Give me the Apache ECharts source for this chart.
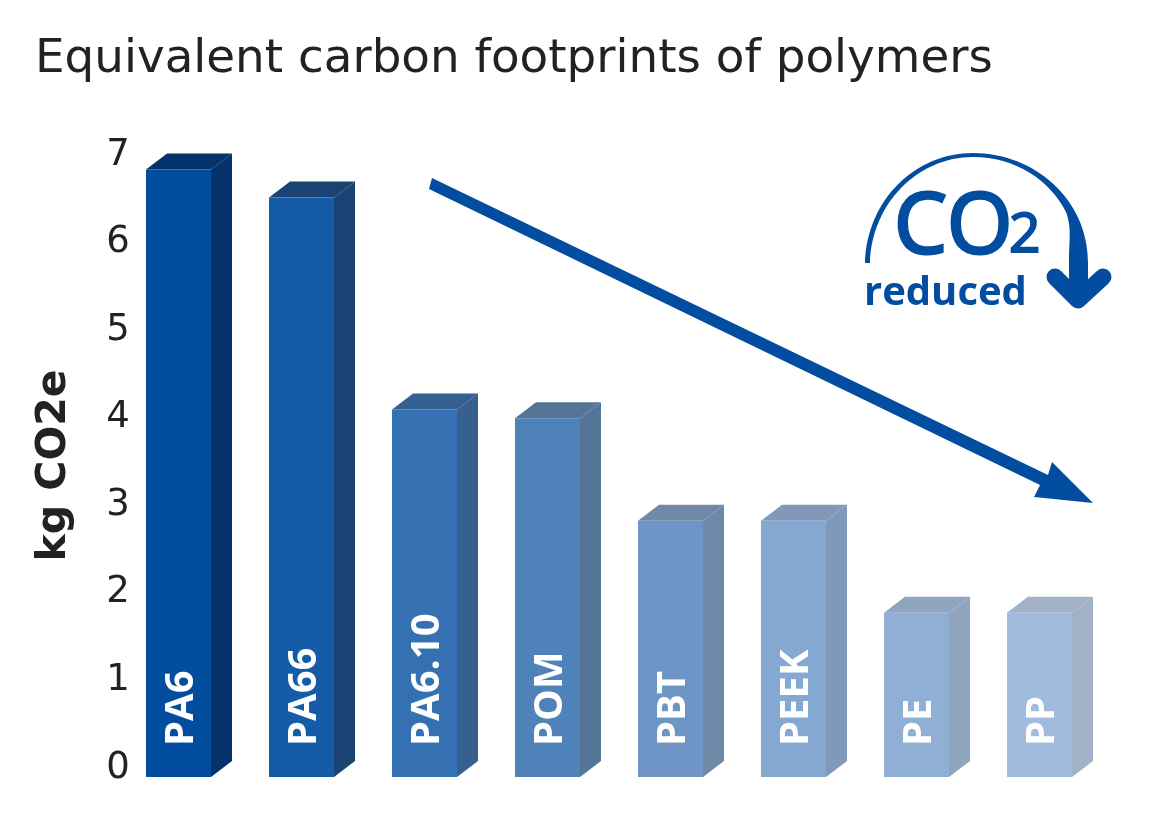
<!DOCTYPE html>
<html>
<head>
<meta charset="utf-8">
<style>html,body{margin:0;padding:0;background:#fff}#c{width:1170px;height:819px}</style>
<script src="https://cdn.jsdelivr.net/npm/echarts@6/dist/echarts.min.js"></script>
</head>
<body>
<div id="c"></div>
<script>
const categories = ['PA6','PA66','PA6.10','POM','PBT','PEEK','PE','PP'];
const values = [6.8,6.48,4.06,3.96,2.79,2.79,1.74,1.74];
const yTicks = [0,1,2,3,4,5,6,7];
const frontColors = ['#034d9f','#155ca8','#3570b2','#5082ba','#6f95c7','#84a8d2','#90afd5','#a0bbdc'];
const sideColors  = ['#04326a','#1a4272','#35608f','#547498','#6f8aa9','#8099b8','#8fa5bf','#a1b2c8'];

const FONT = '"Open Sans","Noto Sans",sans-serif';
const BAR_W = 65, DX = 21, DY = 16, BASE_DROP = 12;
const LOGO_PATH = 'M865,263 C867,200 915,153 973,153 C1035,153 1088,200 1088,262 L1088,295 L1069,295 L1069,262 C1069,240 1072,228 1066,212 C1050,180 1015,157 973,157 C918,157 872,203 870,263 Z';

function renderBar(params, api) {
  const i = api.value(0);
  const top = api.coord([i, api.value(1)]);
  const zero = api.coord([i, 0]);
  const l = top[0] - BAR_W / 2, r = l + BAR_W;
  const t = top[1], b = zero[1] + BASE_DROP;
  return {
    type: 'group',
    children: [
      { type: 'polygon', shape: { points: [[l,t],[l+DX,t-DY],[r+DX,t-DY],[r,t]] }, style: { fill: sideColors[i] } },
      { type: 'polygon', shape: { points: [[r,t],[r+DX,t-DY],[r+DX,b-DY],[r,b]] }, style: { fill: sideColors[i] } },
      { type: 'rect', shape: { x: l, y: t, width: BAR_W, height: b - t }, style: { fill: frontColors[i] } },
      { type: 'text', x: top[0] + 3, y: b - 31, rotation: Math.PI / 2,
        style: { text: categories[i], fill: '#fff', font: 'bold 40px ' + FONT, align: 'left', verticalAlign: 'middle' } }
    ]
  };
}
function renderLogo() {
  return { type: 'path', shape: { pathData: LOGO_PATH, layout: 'cover', x: 865, y: 153, width: 223, height: 142 }, style: { fill: '#034da0' } };
}

const chart = echarts.init(document.getElementById('c'), null, { renderer: 'canvas', width: 1170, height: 819 });
chart.setOption({
  animation: false,
  backgroundColor: '#fff',
  title: {
    text: 'Equivalent carbon footprints of polymers',
    left: 30, top: 31,
    textStyle: { fontFamily: '"DejaVu Sans",sans-serif', fontSize: 46.8, fontWeight: 'normal', color: '#222' }
  },
  grid: { left: 117, width: 984, top: 152, bottom: 54 },
  xAxis: { type: 'category', data: categories, show: false },
  yAxis: {
    type: 'value', min: yTicks[0], max: yTicks[yTicks.length - 1], interval: 1,
    name: 'kg CO2e', nameLocation: 'middle', nameGap: 42,
    nameTextStyle: { fontFamily: '"DejaVu Sans",sans-serif', fontSize: 41, fontWeight: 'bold', color: '#222', padding: [0, 14, 0, 0] },
    axisLine: { show: false }, axisTick: { show: false }, splitLine: { show: false },
    axisLabel: {
      align: 'center', margin: -1,
      formatter: '{d|{value}}',
      rich: { d: { fontFamily: '"DejaVu Sans",sans-serif', fontSize: 37, color: '#222', padding: [6, 0, 0, 0] } }
    }
  },
  series: [{
    type: 'custom',
    renderItem: renderBar,
    encode: { x: 0, y: 1 },
    data: values.map((v, i) => [i, v]),
    silent: true
  },{
    type: 'custom', coordinateSystem: 'none', renderItem: renderLogo, data: [[0]], silent: true
  }],
  graphic: [
    { type: 'polygon', z: 10, shape: { points: [[432,178],[1048,475],[1052,462],[1093,503],[1034,497],[1040,485],[429,189]] }, style: { fill: '#034da0' } },
    { type: 'polyline', z: 10, shape: { points: [[1055,277],[1078,300],[1103,277]] }, style: { fill: 'none', stroke: '#034da0', lineWidth: 17, lineCap: 'round', lineJoin: 'round' } },
    { type: 'text', z: 10, x: 894, y: 271, style: { text: 'CO', fill: '#034da0', stroke: '#034da0', lineWidth: 3, font: '500 84px ' + FONT, verticalAlign: 'bottom' } },
    { type: 'text', z: 10, x: 1009, y: 264, style: { text: '2', fill: '#034da0', stroke: '#034da0', lineWidth: 2, font: '500 55px ' + FONT, verticalAlign: 'bottom' } },
    { type: 'text', z: 10, x: 864, y: 314, style: { text: 'reduced', fill: '#034da0', font: 'bold 40px ' + FONT, verticalAlign: 'bottom' } }
  ]
});
</script>
</body>
</html>
